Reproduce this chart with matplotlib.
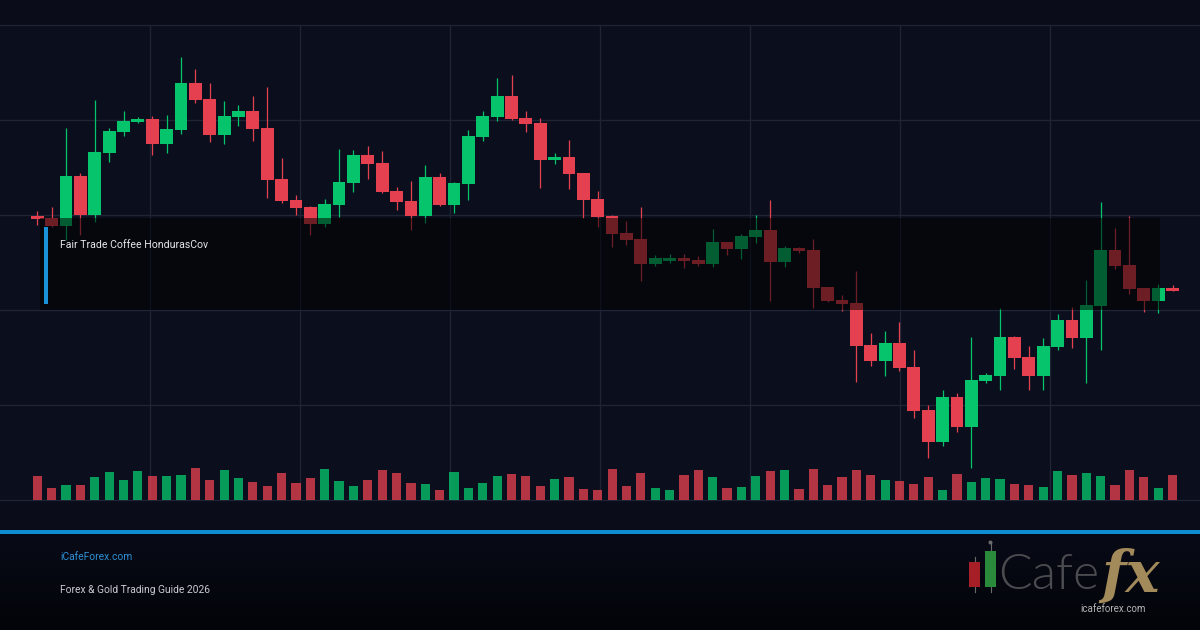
import matplotlib
matplotlib.use("Agg")
import matplotlib.pyplot as plt
import numpy as np
from matplotlib.patches import Rectangle, Circle
from matplotlib.colors import LinearSegmentedColormap

# ---------------- data ----------------
opens = [284, 282, 274.5, 324, 285, 347, 368.3, 378, 381, 356.3,
         370.3, 417, 401, 365.3, 383.3, 389, 372, 321, 300, 293,
         276.3, 295.3, 317.3, 345, 337, 309, 299, 284.3, 323, 295,
         316.3, 363.3, 383.3, 404, 382, 377, 340.3, 343, 327, 301,
         284.3, 267, 261, 236.3, 239, 242, 240, 236.3, 258, 251,
         263, 270, 238.3, 252, 250, 213, 200, 197, 155, 139.3,
         157, 133, 90, 58.3, 103, 73.3, 119, 124.3, 163, 143,
         124.3, 153.3, 180, 162.3, 194.3, 250, 235, 212, 199.3, 212]
highs = [289, 293, 371.7, 327.3, 400, 371.7, 389, 383.3, 384.3, 385,
         443, 431, 417, 399, 395, 404, 413, 342, 305, 294,
         301, 351, 350, 354, 349, 313.3, 319, 335, 327, 318.3,
         370, 389, 422, 425, 389, 381.7, 346.7, 360, 327.5, 309,
         285, 279, 293, 245, 246, 246, 244, 271, 258.5, 266,
         285, 300, 254, 253.5, 261, 213.5, 205.3, 229, 167, 169,
         178, 150, 95, 110, 107, 163.3, 127, 192, 164, 154,
         162, 186, 193, 220, 298, 272, 284, 212.5, 216.3, 215]
lows = [275, 273, 260, 265, 278.3, 338.3, 364, 376.7, 345, 346.7,
        366.3, 397.3, 358.3, 356, 374, 359.3, 302.3, 296.7, 285, 265,
        273, 283.3, 308.3, 321.3, 307, 290, 270, 276.7, 294.3, 287.3,
        300, 359.3, 379.3, 380, 368.3, 312.3, 336.3, 311.3, 282.3, 273.3,
        253.3, 255, 219.3, 234.3, 237.3, 232.3, 234.3, 233.3, 245.3, 241,
        257, 199.3, 233.3, 247, 192.3, 198.3, 189.3, 118.3, 134.3, 124.3,
        129.3, 82.3, 42.3, 54.3, 68.3, 32.3, 117, 110.3, 131.3, 110.3,
        110.3, 150.3, 152.3, 117.3, 150.3, 231.3, 206.3, 188.3, 187.3, 209]
closes = [281.5, 274.5, 324, 285, 348, 369, 379, 381, 356.3, 371,
          417, 400.3, 365.3, 384, 389, 371.3, 320.3, 299.3, 292.3, 276.3,
          296, 318, 345, 336.3, 308, 298.3, 284.3, 323, 295, 317,
          364, 384, 404, 381.3, 376.3, 340.3, 343.3, 326.3, 300.3, 283.3,
          266.3, 260.3, 236.3, 242, 242, 239, 236.3, 258, 251, 264,
          270, 238.3, 252, 249.3, 212.3, 199.3, 196.3, 154.3, 139.3, 157,
          132.3, 89.3, 58.3, 103, 73.3, 120, 125, 163, 142.3, 124.3,
          154, 180, 162.3, 195, 250, 234.3, 211.3, 199.3, 212, 209.3]
volumes = [2400, 1230, 1500, 1500, 2300, 2800, 2000, 2900, 2400, 2400,
           2500, 3200, 2000, 3000, 2200, 1800, 1400, 2700, 1700, 2200,
           3100, 1900, 1400, 2000, 3000, 2700, 1700, 1600, 1000, 2800,
           1200, 1700, 2400, 2600, 2400, 1400, 2100, 2300, 1100, 1000,
           3100, 1400, 2700, 1200, 1000, 2500, 3000, 2300, 1200, 1300,
           2400, 2900, 3000, 1100, 3100, 1500, 2300, 3000, 2500, 2000,
           1900, 1600, 2300, 1000, 2600, 1800, 2200, 2100, 1600, 1500,
           1300, 2900, 2500, 2700, 2400, 1500, 3000, 2300, 1200, 2500]

title = "Fair Trade Coffee HondurasCov"
site_label = "iCafeForex.com"
subtitle = "Forex & Gold Trading Guide 2026"
logo_word = "Cafe"
logo_fx = "fx"
logo_url = "icafeforex.com"

# ---------------- style / layout ----------------
W, H, DPI = 1200, 630, 100
UP = "#06c46c"
DOWN = "#e4404f"
BG = "#0b0f1d"
FIG_BG = "#0a0d19"
GRID = "#1f2536"
BLUE = "#0e8dd3"
FONT = ["Roboto", "DejaVu Sans"]

PLOT = (0, 25, 1200, 500)        # pixel box of the chart area
FIRST_PX, SLOT_PX = 37.3, 14.37  # candle slot geometry in pixels
PRICE_SPAN = 475.0
VOL_SPAN = 47500.0


def px_rect(x0, y0, x1, y1):
    return [x0 / W, 1 - y1 / H, (x1 - x0) / W, (y1 - y0) / H]


def clean(a):
    a.set_xticks([])
    a.set_yticks([])
    for s in a.spines.values():
        s.set_visible(False)


fig = plt.figure(figsize=(W / DPI, H / DPI), dpi=DPI, facecolor=FIG_BG)

# grid background
gax = fig.add_axes(px_rect(*PLOT), zorder=0)
gax.set_facecolor(BG)
gax.set_xlim(0, 8)
gax.set_ylim(0, 5)
for k in range(1, 8):
    gax.axvline(k, color=GRID, lw=0.9)
for k in range(0, 6):
    gax.axhline(k, color=GRID, lw=0.9, clip_on=False)
clean(gax)

n = len(opens)
xs = np.arange(n)
o = np.array(opens, float)
c = np.array(closes, float)
hi = np.array(highs, float)
lo = np.array(lows, float)
vol = np.array(volumes, float)
up = c >= o
cols = np.where(up, UP, DOWN)

xlim = (-FIRST_PX / SLOT_PX, (W - FIRST_PX) / SLOT_PX)

# volume axes
vax = fig.add_axes(px_rect(*PLOT), zorder=1)
vax.patch.set_alpha(0)
vax.set_xlim(*xlim)
vax.set_ylim(0, VOL_SPAN)
vax.bar(xs, vol, width=0.64, color=cols, alpha=0.78, linewidth=0)
clean(vax)

# price axes
ax = fig.add_axes(px_rect(*PLOT), zorder=2)
ax.patch.set_alpha(0)
ax.set_xlim(*xlim)
ax.set_ylim(0, PRICE_SPAN)
ax.vlines(xs, lo, hi, colors=cols, lw=0.9)
body_lo = np.minimum(o, c)
body_h = np.maximum(np.abs(c - o), 1.0)
ax.bar(xs, body_h, bottom=body_lo, width=0.89, color=cols, linewidth=0)
clean(ax)

# decoration layer in pixel coordinates
dax = fig.add_axes([0, 0, 1, 1], zorder=3)
dax.patch.set_alpha(0)
clean(dax)

# footer gradient
cmap = LinearSegmentedColormap.from_list("foot", ["#080b17", "#030409"])
dax.imshow(np.linspace(0, 1, 100).reshape(-1, 1), extent=(0, W, H, 533),
           cmap=cmap, aspect="auto", zorder=0, interpolation="bilinear")
dax.set_xlim(0, W)
dax.set_ylim(H, 0)

# overlay box with title
dax.add_patch(Rectangle((40, 218), 1120, 92, facecolor="black", alpha=0.52,
                        linewidth=0, zorder=2))
dax.add_patch(Rectangle((43.5, 227), 4, 77, facecolor="#1a92da", linewidth=0, zorder=3))
dax.text(60, 245, title, fontsize=7.6, color="#e4e6ea", family=FONT,
         ha="left", va="center", zorder=4)

# blue separator line
dax.add_patch(Rectangle((0, 530), W, 3.6, facecolor=BLUE, linewidth=0, zorder=3))

# footer texts
dax.text(60, 556.5, site_label, fontsize=7.4, color="#2e90d6", family=FONT,
         ha="left", va="center", zorder=4)
dax.text(60, 590, subtitle, fontsize=7.4, color="#c9ccd2", family=FONT,
         ha="left", va="center", zorder=4)

# logo
dax.plot([974.5, 974.5], [557, 592], color="#6b6b6b", lw=0.8, zorder=3)
dax.add_patch(Rectangle((969, 562), 11, 25, facecolor="#a61f26", linewidth=0, zorder=4))
dax.plot([990.5, 990.5], [542, 592], color="#6b6b6b", lw=0.8, zorder=3)
dax.add_patch(Circle((990.5, 542.5), 2.0, facecolor="#6b6b6b", linewidth=0, zorder=3))
dax.add_patch(Rectangle((985, 551), 11, 36, facecolor="#2a8a3c", linewidth=0, zorder=4))
dax.text(998, 589, logo_word, fontsize=36, color="#4a4c50", family=["Lato", "DejaVu Sans"],
         fontweight=300, ha="left", va="baseline", zorder=4)
dax.text(1101, 592, logo_fx, fontsize=41, color="#a38a5a", family=["DejaVu Serif"],
         style="italic", fontweight="bold", ha="left", va="baseline", zorder=5)
dax.text(1080, 609, logo_url, fontsize=7, color="#b5b5b5", family=FONT,
         ha="left", va="center", zorder=5)

fig.savefig("out.png", dpi=DPI, facecolor=FIG_BG)
